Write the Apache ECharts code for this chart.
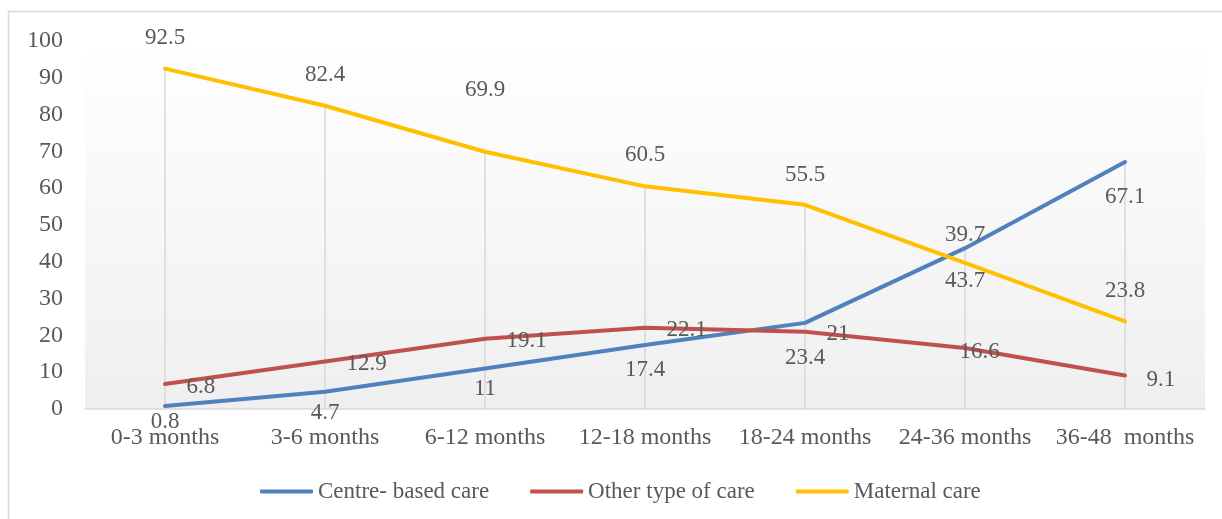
<!DOCTYPE html>
<html>
<head>
<meta charset="utf-8">
<title>Type of care by child age</title>
<script src="https://cdn.jsdelivr.net/npm/echarts@6/dist/echarts.min.js"></script>
<style>
  html, body { margin: 0; padding: 0; background: #ffffff; }
  #chart { width: 1222px; height: 519px; }
</style>
</head>
<body>
<div id="chart"></div>
<script>
// Age groups and share of children (%) in each type of care
const ageGroups = ['0-3 months', '3-6 months', '6-12 months', '12-18 months', '18-24 months', '24-36 months', '36-48  months'];
const centreBased = [0.8, 4.7, 11, 17.4, 23.4, 43.7, 67.1];
const otherCare = [6.8, 12.9, 19.1, 22.1, 21, 16.6, 9.1];
const maternalCare = [92.5, 82.4, 69.9, 60.5, 55.5, 39.7, 23.8];
const yTicks = { min: 0, max: 100, step: 10 };

// Label nudges (pixels) so value labels sit clear of the lines
const centreLabelDrop = [16, 21, 20, 25, 35, 33, 35];
const maternalLabelLift = [31, 31, 62, 31, 30, 28, 30];
const otherLabelShift = [[0, 3], [0, 2], [0, 2], [0, 2], [0, 2], [-27, 4], [0, 4]];

const FONT = "'Liberation Serif', 'Times New Roman', serif";
const TEXT = '#595959';

// Drop line height at each age group: the highest of the three shares
const dropTops = ageGroups.map((_, i) => Math.max(centreBased[i], otherCare[i], maternalCare[i]));

function withLabels(values, offsets) {
  return values.map((v, i) => ({ value: v, label: { offset: offsets[i] } }));
}

const lineBase = {
  type: 'line',
  symbol: 'circle',
  symbolSize: 1,
  showSymbol: true,
  z: 3,
  lineStyle: { width: 4, cap: 'round', join: 'round' },
  emphasis: { disabled: true },
  label: { show: true, fontFamily: FONT, fontSize: 23, color: TEXT }
};

const chart = echarts.init(document.getElementById('chart'), null, { renderer: 'canvas' });

chart.setOption({
  animation: false,
  backgroundColor: '#ffffff',
  graphic: [{
    type: 'rect',
    shape: { x: 8.5, y: 11.5, width: 1400, height: 700 },
    style: { fill: 'none', stroke: '#d9d9d9', lineWidth: 1.5 },
    silent: true,
    z: 0
  }],
  grid: {
    left: 85, right: 17, top: 41, bottom: 110,
    show: true,
    borderWidth: 0,
    backgroundColor: new echarts.graphic.LinearGradient(0, 0, 0, 1, [
      { offset: 0, color: '#ffffff' },
      { offset: 1, color: '#efefef' }
    ])
  },
  legend: {
    data: ['Centre- based care', 'Other type of care', 'Maternal care'],
    left: 255,
    top: 475,
    icon: 'roundRect',
    itemWidth: 53,
    itemHeight: 4,
    itemGap: 41,
    textStyle: { fontFamily: FONT, fontSize: 23, color: TEXT }
  },
  xAxis: {
    type: 'category',
    data: ageGroups,
    boundaryGap: true,
    axisLine: { show: true, lineStyle: { color: '#d9d9d9', width: 1.5 } },
    axisTick: { show: false },
    splitLine: { show: false },
    axisLabel: { fontFamily: FONT, fontSize: 24, color: TEXT, margin: 17, interval: 0 }
  },
  yAxis: {
    type: 'value',
    min: yTicks.min,
    max: yTicks.max,
    interval: yTicks.step,
    axisLine: { show: false },
    axisTick: { show: false },
    splitLine: { show: false },
    axisLabel: { fontFamily: FONT, fontSize: 24, color: TEXT, margin: 22 }
  },
  series: [
    {
      name: 'drop lines',
      type: 'bar',
      data: dropTops,
      barWidth: 1.5,
      silent: true,
      z: 1,
      itemStyle: { color: '#d9d9d9' },
      emphasis: { disabled: true }
    },
    Object.assign({}, lineBase, {
      name: 'Centre- based care',
      color: '#4F81BD',
      data: withLabels(centreBased, centreLabelDrop.map(d => [0, d])),
      label: Object.assign({}, lineBase.label, { position: 'inside' })
    }),
    Object.assign({}, lineBase, {
      name: 'Other type of care',
      color: '#C0504D',
      data: withLabels(otherCare, otherLabelShift),
      label: Object.assign({}, lineBase.label, { position: 'right', distance: 21 })
    }),
    Object.assign({}, lineBase, {
      name: 'Maternal care',
      color: '#FFC000',
      data: withLabels(maternalCare, maternalLabelLift.map(d => [0, -d])),
      label: Object.assign({}, lineBase.label, { position: 'inside' })
    })
  ]
});
</script>
</body>
</html>
